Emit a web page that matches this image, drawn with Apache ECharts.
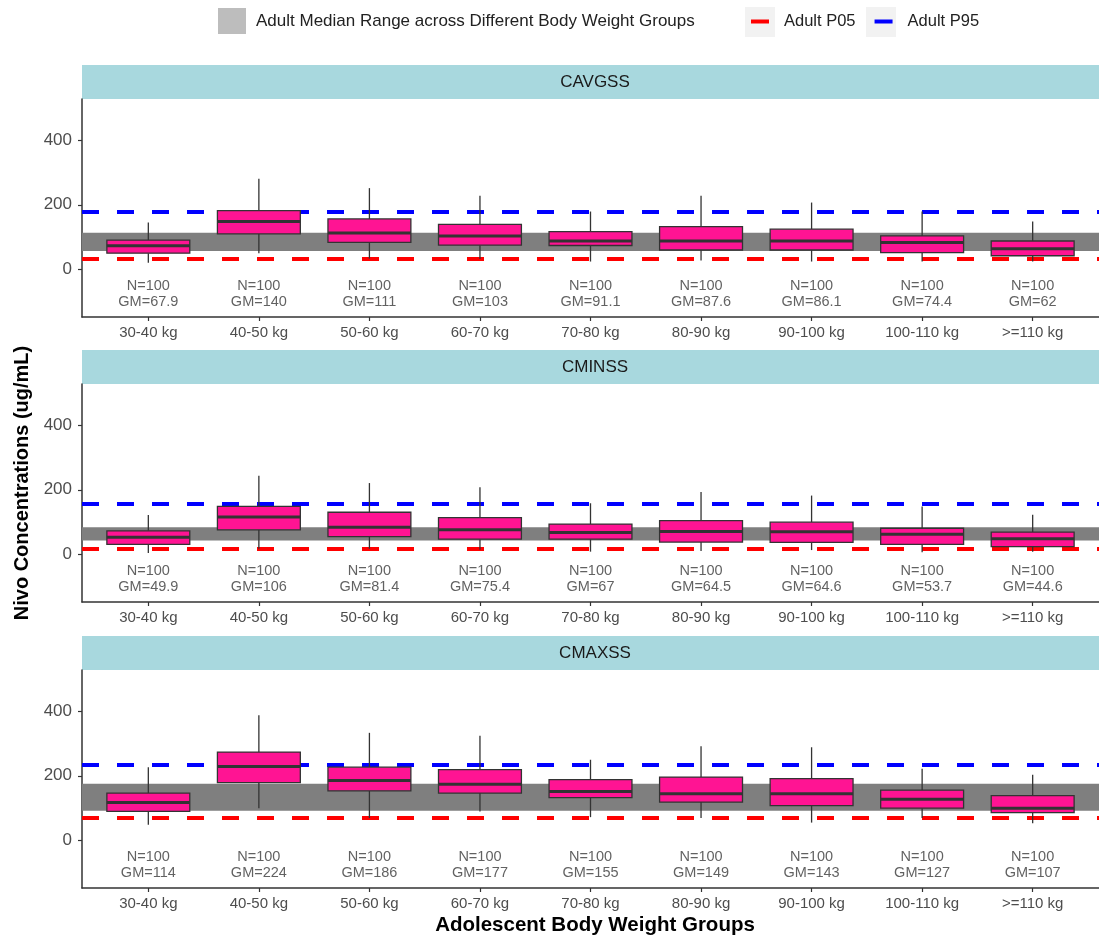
<!DOCTYPE html>
<html>
<head>
<meta charset="utf-8">
<script src="https://cdn.jsdelivr.net/npm/echarts@6/dist/echarts.min.js"></script>
<style>
  html, body { margin: 0; padding: 0; background: #fff; }
  #chart { width: 1099px; height: 938px; }
</style>
</head>
<body>
<div id="chart"></div>
<script>
// categories (x axis)
var categories = ['30-40 kg', '40-50 kg', '50-60 kg', '60-70 kg', '70-80 kg', '80-90 kg', '90-100 kg', '100-110 kg', '>=110 kg'];
var panelNames = ['CAVGSS', 'CMINSS', 'CMAXSS'];

// box stats per group: [lower whisker, Q1, median, Q3, upper whisker]
var cavgssBox = [
  [19, 49, 72, 90, 145],
  [49, 109, 148, 182, 281],
  [32, 83, 112, 156, 252],
  [31, 74, 103, 139, 228],
  [23, 73, 87, 116, 179],
  [26, 59, 87, 132, 228],
  [23, 59, 87, 124, 207],
  [23, 51, 82, 103, 179],
  [23, 41, 63, 87, 148]
];
var cminssBox = [
  [3, 30, 52, 72, 121],
  [16, 75, 115, 148, 244],
  [16, 54, 83, 130, 221],
  [13, 46, 75, 113, 208],
  [7, 46, 67, 93, 158],
  [9, 37, 70, 104, 193],
  [12, 36, 69, 99, 182],
  [5, 30, 61, 80, 148],
  [7, 23, 47, 68, 122]
];
var cmaxssBox = [
  [47, 89, 117, 146, 227],
  [99, 179, 229, 274, 389],
  [68, 153, 185, 227, 334],
  [89, 146, 174, 219, 325],
  [71, 132, 151, 188, 250],
  [68, 118, 144, 196, 292],
  [54, 107, 144, 191, 289],
  [68, 99, 127, 155, 222],
  [52, 85, 99, 138, 203]
];

// N and geometric mean labels
var cavgssN = [100, 100, 100, 100, 100, 100, 100, 100, 100];
var cminssN = [100, 100, 100, 100, 100, 100, 100, 100, 100];
var cmaxssN = [100, 100, 100, 100, 100, 100, 100, 100, 100];
var cavgssGM = ['67.9', '140', '111', '103', '91.1', '87.6', '86.1', '74.4', '62'];
var cminssGM = ['49.9', '106', '81.4', '75.4', '67', '64.5', '64.6', '53.7', '44.6'];
var cmaxssGM = ['114', '224', '186', '177', '155', '149', '143', '127', '107'];

// adult reference values per panel
var adultMedianRange = [[56, 113], [42, 83], [91, 175]];
var adultP05 = [33, 16, 68];
var adultP95 = [179, 156, 234];

var yTicks = [0, 200, 400];

var boxes = [cavgssBox, cminssBox, cmaxssBox];
var nVals = [cavgssN, cminssN, cmaxssN];
var gmVals = [cavgssGM, cminssGM, cmaxssGM];

var FONT = 'Liberation Sans, Arial, Helvetica, sans-serif';
var bandName = 'Adult Median Range across Different Body Weight Groups';
var panelTops = [99, 384, 670];
var plotH = 218;
var stripH = 34;
var LABEL_Y = -78;

var catIdx = categories.map(function (c, i) { return i + 1; });

function renderBox(params, api) {
  var x = api.value(0);
  var lo = api.coord([x, api.value(1)]);
  var q1 = api.coord([x, api.value(2)]);
  var md = api.coord([x, api.value(3)]);
  var q3 = api.coord([x, api.value(4)]);
  var hi = api.coord([x, api.value(5)]);
  var w = api.size([1, 0])[0] * 0.75;
  var ls = { stroke: '#333333', lineWidth: 1.3 };
  return {
    type: 'group',
    children: [
      { type: 'line', shape: { x1: lo[0], y1: lo[1], x2: q1[0], y2: q1[1] }, style: ls },
      { type: 'line', shape: { x1: q3[0], y1: q3[1], x2: hi[0], y2: hi[1] }, style: ls },
      { type: 'rect', shape: { x: q3[0] - w / 2, y: q3[1], width: w, height: q1[1] - q3[1] },
        style: { fill: '#FF1493', stroke: '#333333', lineWidth: 1.3 } },
      { type: 'line', shape: { x1: md[0] - w / 2, y1: md[1], x2: md[0] + w / 2, y2: md[1] },
        style: { stroke: '#333333', lineWidth: 3 } }
    ]
  };
}

var grids = [], xAxes = [], yAxes = [], series = [], graphics = [];

panelNames.forEach(function (name, p) {
  grids.push({ left: 82, width: 1026, top: panelTops[p], height: plotH });
  xAxes.push({
    type: 'value', gridIndex: p, min: 0.4, max: 9.6,
    splitLine: { show: false },
    axisLine: { show: true, onZero: false, lineStyle: { color: '#333333', width: 1.5 } },
    axisTick: { show: true, customValues: catIdx, length: 4, lineStyle: { color: '#333333', width: 1.2 } },
    axisLabel: {
      customValues: catIdx, margin: 8, fontSize: 15, fontFamily: FONT, color: '#4d4d4d',
      formatter: function (v) { return categories[Math.round(v) - 1] || ''; }
    }
  });
  yAxes.push({
    type: 'value', gridIndex: p, min: -150, max: 530,
    splitLine: { show: false },
    axisLine: { show: true, onZero: false, lineStyle: { color: '#333333', width: 1.5 } },
    axisTick: { show: true, customValues: yTicks, length: 4, lineStyle: { color: '#333333', width: 1.2 } },
    axisLabel: { customValues: yTicks, margin: 10, fontSize: 17, fontFamily: FONT, color: '#4d4d4d' }
  });

  // adult median range band
  series.push({
    name: bandName, type: 'line', xAxisIndex: p, yAxisIndex: p, data: [],
    itemStyle: { color: '#bdbdbd' }, lineStyle: { color: '#bdbdbd' },
    markArea: {
      silent: true, itemStyle: { color: '#7f7f7f' },
      data: [[{ yAxis: adultMedianRange[p][0] }, { yAxis: adultMedianRange[p][1] }]]
    }
  });
  // P05 / P95 dashed lines
  [['Adult P05', adultP05[p], '#ff0000'], ['Adult P95', adultP95[p], '#0000ff']].forEach(function (r) {
    series.push({
      name: r[0], type: 'line', xAxisIndex: p, yAxisIndex: p, data: [],
      itemStyle: { color: r[2] }, lineStyle: { color: r[2] },
      markLine: {
        silent: true, symbol: 'none', label: { show: false },
        lineStyle: { color: r[2], width: 4, type: [17, 18] },
        data: [{ yAxis: r[1] }]
      }
    });
  });
  // boxes
  series.push({
    type: 'custom', xAxisIndex: p, yAxisIndex: p, z: 10,
    renderItem: renderBox,
    encode: { x: 0, y: [1, 2, 3, 4, 5] },
    data: boxes[p].map(function (b, i) { return [i + 1].concat(b); })
  });
  // N / GM annotations
  series.push({
    type: 'scatter', xAxisIndex: p, yAxisIndex: p, symbolSize: 0, silent: true,
    data: categories.map(function (c, i) { return [i + 1, LABEL_Y]; }),
    label: {
      show: true, position: 'inside', fontSize: 14.5, lineHeight: 16, fontFamily: FONT, color: '#3a3a3a',
      formatter: function (d) { return 'N=' + nVals[p][d.dataIndex] + '\nGM=' + gmVals[p][d.dataIndex]; }
    }
  });

  // facet strip
  graphics.push({
    type: 'rect', left: 82, top: panelTops[p] - stripH,
    shape: { width: 1026, height: stripH }, style: { fill: '#a8d8de' }, silent: true
  });
  graphics.push({
    type: 'text', x: 595, y: panelTops[p] - stripH / 2,
    style: { text: name, fontSize: 17, fontFamily: FONT, fill: '#1a1a1a', textAlign: 'center', textVerticalAlign: 'middle' },
    silent: true
  });
});

// legend key backgrounds and axis titles
graphics.push({ type: 'rect', left: 745, top: 7, shape: { width: 30, height: 30 }, style: { fill: '#f2f2f2' }, silent: true, z: -1 });
graphics.push({ type: 'rect', left: 866, top: 7, shape: { width: 30, height: 30 }, style: { fill: '#f2f2f2' }, silent: true, z: -1 });
graphics.push({
  type: 'text', x: 22, y: 483, rotation: Math.PI / 2,
  style: { text: 'Nivo Concentrations (ug/mL)', fontSize: 20, fontWeight: 'bold', fontFamily: FONT, fill: '#000', textAlign: 'center', textVerticalAlign: 'middle' }
});
graphics.push({
  type: 'text', x: 595, y: 925,
  style: { text: 'Adolescent Body Weight Groups', fontSize: 20.5, fontWeight: 'bold', fontFamily: FONT, fill: '#000', textAlign: 'center', textVerticalAlign: 'middle' }
});

var chart = echarts.init(document.getElementById('chart'), null, { renderer: 'canvas' });
chart.setOption({
  animation: false,
  backgroundColor: '#ffffff',
  legend: [
    {
      data: [bandName], left: 218, top: 8, padding: 0, icon: 'rect', itemWidth: 28, itemHeight: 26,
      selectedMode: false,
      textStyle: { fontSize: 17, fontFamily: FONT, color: '#222', padding: [0, 0, 0, 5] }
    },
    {
      data: ['Adult P05', 'Adult P95'], left: 751, top: 13, padding: 0, icon: 'rect', itemWidth: 18, itemHeight: 4,
      itemGap: 19, selectedMode: false,
      textStyle: { fontSize: 16.5, fontFamily: FONT, color: '#222', padding: [0, 0, 0, 10] }
    }
  ],
  grid: grids,
  xAxis: xAxes,
  yAxis: yAxes,
  graphic: graphics,
  series: series
});
</script>
</body>
</html>
